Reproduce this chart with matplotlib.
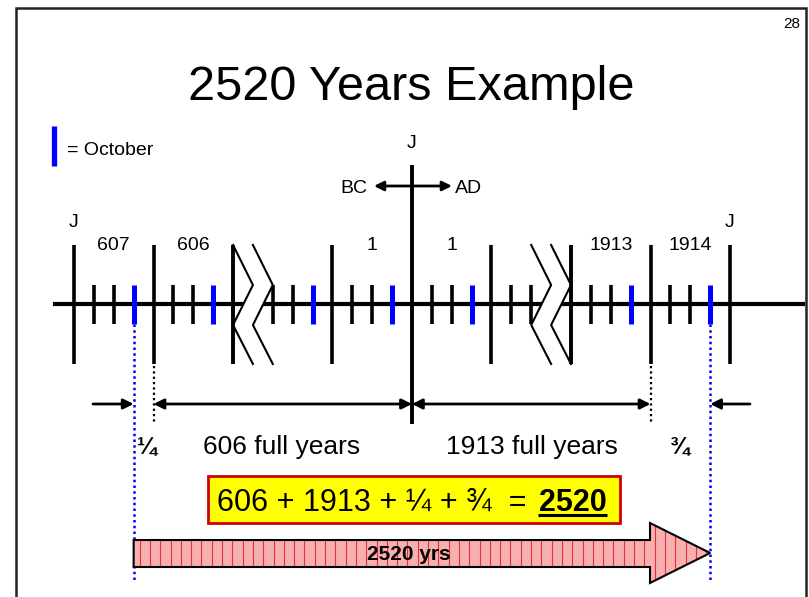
import numpy as np
import matplotlib.pyplot as plt
from matplotlib.patches import Polygon, Rectangle

plt.rcParams['font.family'] = ['Liberation Sans', 'DejaVu Sans']

# timeline data, in quarter-year steps from the left "J"
years = ['607', '606', '1', '1', '1913', '1914']
year_start = [0, 4, 13, 17, 25, 29]
year_ticks = [0, 4, 8, 13, 21, 25, 29, 33]
center_tick = 17
quarter_ticks = [1, 2, 5, 6, 10, 11, 14, 15, 18, 19, 22, 23, 26, 27, 30, 31]
october_ticks = [3, 7, 12, 16, 20, 28, 32]
breaks = [8, 23]
j_ticks = [0, 17, 33]
full_years = [606, 1913]
fractions = ['¼', '¾']
total = 2520

X0, STEP = 74, 19.88
LINE_Y = 304


def x_of(k):
    return X0 + STEP * k


fig = plt.figure(figsize=(8.09, 5.97), dpi=100)
ax = fig.add_axes([0, 0, 1, 1])
ax.set_xlim(0, 809)
ax.set_ylim(597, 0)
ax.axis('off')

# slide frame and page number
ax.plot([16, 16, 806, 806], [597, 8, 8, 597], color='#222222', lw=1.8, solid_joinstyle='miter')
ax.text(800, 28, '28', fontsize=11, ha='right', va='baseline')

ax.text(411, 100, '2520 Years Example', fontsize=35, ha='center', va='baseline')

# legend
ax.plot([54.5, 54.5], [126, 166], color='#0000ff', lw=3.8, solid_capstyle='butt')
ax.text(67, 155, '= October', fontsize=14, va='baseline')

# main line
ax.plot([55, 803], [LINE_Y, LINE_Y], color='black', lw=3, zorder=2)
for k in year_ticks:
    ax.plot([x_of(k)] * 2, [245, 364], color='black', lw=2.6, solid_capstyle='butt', zorder=3)
for k in quarter_ticks:
    ax.plot([x_of(k)] * 2, [285, 324], color='black', lw=2.6, solid_capstyle='butt', zorder=3)
for k in october_ticks:
    ax.plot([x_of(k)] * 2, [285, 324], color='#0000ff', lw=3.6, solid_capstyle='butt', zorder=3)
ax.plot([x_of(center_tick)] * 2, [165, 424], color='black', lw=2.8, solid_capstyle='butt', zorder=5)

# breaks in the timeline
zig_y = [245, 285, 325, 364]
for k in breaks:
    a = [x_of(k), x_of(k + 1), x_of(k), x_of(k + 1)]
    b = [x_of(k + 1), x_of(k + 2), x_of(k + 1), x_of(k + 2)]
    pts = list(zip(a, zig_y)) + list(zip(b, zig_y))[::-1]
    ax.add_patch(Polygon(pts, closed=True, facecolor='white', edgecolor='none', zorder=4))
    ax.plot(a, zig_y, color='black', lw=1.5, zorder=4)
    ax.plot(b, zig_y, color='black', lw=1.5, zorder=4)
# the year ticks beside the breaks stay on top of the white gap
ax.plot([x_of(breaks[0])] * 2, [245, 364], color='black', lw=2.6, solid_capstyle='butt', zorder=4)
ax.plot([x_of(breaks[1] + 2)] * 2, [245, 364], color='black', lw=2.6, solid_capstyle='butt', zorder=4)

# labels
for lab, k in zip(years, year_start):
    ax.text(x_of(k + 2), 250, lab, fontsize=14, ha='center', va='baseline')
for k in j_ticks:
    y = 148 if k == center_tick else 227
    ax.text(x_of(k), y, 'J', fontsize=14, ha='center', va='baseline')

xc = x_of(center_tick)
ax.annotate('', xy=(xc - 38, 186), xytext=(xc + 40, 186),
            arrowprops=dict(arrowstyle='<|-|>', lw=2, color='black', mutation_scale=14,
                            shrinkA=0, shrinkB=0))
ax.text(367, 193, 'BC', fontsize=14, ha='right', va='baseline')
ax.text(455, 193, 'AD', fontsize=14, ha='left', va='baseline')

# dotted guides
first_oct, last_oct = october_ticks[0], october_ticks[-1]
for k in [first_oct, last_oct]:
    ax.plot([x_of(k)] * 2, [324, 580], color='#0000ff', lw=1.8, ls=(0, (1, 1.3)), zorder=1)
for k in [4, 29]:
    ax.plot([x_of(k)] * 2, [366, 422], color='black', lw=1.6, ls=(0, (1, 1.4)), zorder=1)

# span arrows
AY = 404
arr = dict(lw=2, color='black', mutation_scale=15, shrinkA=0, shrinkB=0)
ax.annotate('', xy=(x_of(first_oct), AY), xytext=(93, AY), arrowprops=dict(arrowstyle='-|>', **arr))
ax.annotate('', xy=(x_of(last_oct), AY), xytext=(750, AY), arrowprops=dict(arrowstyle='-|>', **arr))
ax.annotate('', xy=(x_of(4), AY), xytext=(xc, AY), arrowprops=dict(arrowstyle='<|-|>', **arr))
ax.annotate('', xy=(xc, AY), xytext=(x_of(29), AY), arrowprops=dict(arrowstyle='<|-|>', **arr))

ax.text(147, 454, fractions[0], fontsize=17, fontweight='bold', ha='center', va='baseline')
ax.text(680, 454, fractions[1], fontsize=17, fontweight='bold', ha='center', va='baseline')
ax.text(282, 454, f'{full_years[0]} full years', fontsize=19, ha='center', va='baseline')
ax.text(532, 454, f'{full_years[1]} full years', fontsize=19, ha='center', va='baseline')

# sum box
ax.add_patch(Rectangle((208, 476), 412, 47, facecolor='#ffff00', edgecolor='#d00000', lw=2, zorder=2))
ax.text(217, 511, f'{full_years[0]} + {full_years[1]} + {fractions[0]} + {fractions[1]}  =',
        fontsize=22, ha='left', va='baseline', zorder=3)
ax.text(607, 511, str(total), fontsize=22, fontweight='bold', ha='right', va='baseline', zorder=3)
ax.plot([538, 607], [515, 515], color='black', lw=2.2, solid_capstyle='butt', zorder=3)

# big arrow, pink with thin red stripes
x1, x2, tip = x_of(first_oct), 650, x_of(last_oct)
big = [(x1, 540), (x2, 540), (x2, 523), (tip, 553), (x2, 583), (x2, 567), (x1, 567)]
fill = Polygon(big, closed=True, facecolor='#f7b0b0', edgecolor='none', zorder=2)
ax.add_patch(fill)
stripes = ax.vlines(np.arange(x1 + 6, tip, 10.3), 520, 586, color='#e8303a', lw=0.8, zorder=2)
stripes.set_clip_path(fill)
ax.add_patch(Polygon(big, closed=True, fill=False, edgecolor='black', lw=1.5, zorder=3))
ax.text(367, 560, f'{total} yrs', fontsize=15, fontweight='bold', ha='left', va='baseline', zorder=4)

plt.savefig('out.png', dpi=100)
